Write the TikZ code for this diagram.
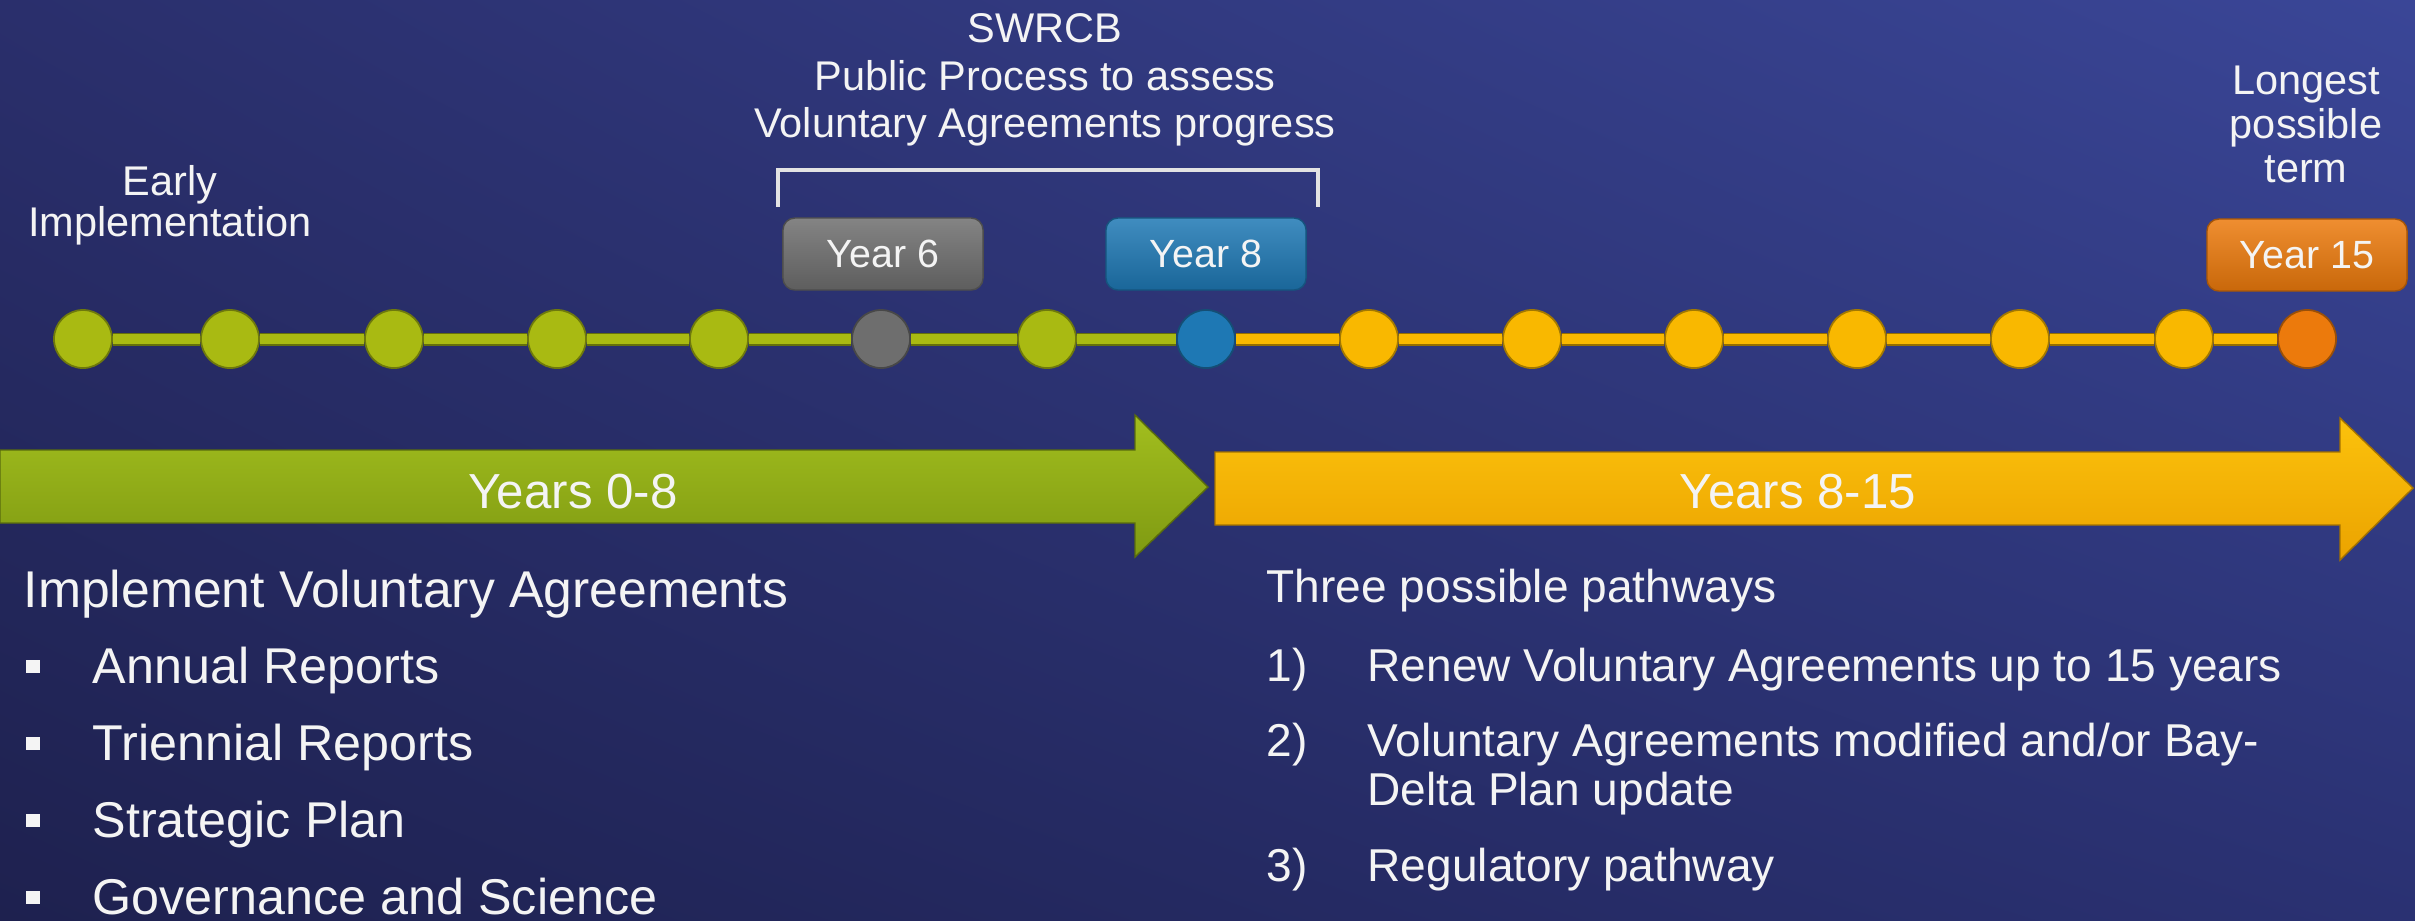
\documentclass[tikz,border=0pt]{standalone}
\usepackage{fontspec}
\setmainfont{Liberation Sans}
\usetikzlibrary{shadings}
\definecolor{bgul}{HTML}{2A2F6C}
\definecolor{bgur}{HTML}{3A4697}
\definecolor{bgll}{HTML}{1E214F}
\definecolor{bglr}{HTML}{2A3172}
\definecolor{vagreen}{HTML}{A9BA12}
\definecolor{vayellow}{HTML}{F9B800}
\definecolor{vablue}{HTML}{1E78B4}
\definecolor{vaorange}{HTML}{EC7A0C}
\definecolor{vagrey}{HTML}{6E6E6E}
\definecolor{argreentop}{HTML}{A2BE1E}
\definecolor{argreenbot}{HTML}{7F9A12}
\definecolor{aryellowtop}{HTML}{FCC20C}
\definecolor{aryellowbot}{HTML}{EBA300}
\definecolor{vatext}{HTML}{F4F4F4}
\begin{document}
\begin{tikzpicture}[x=0.01cm,y=-0.01cm,
  bead/.style={circle,minimum size=5.8mm,inner sep=0pt,fill=#1,draw=#1!65!black,line width=0.5pt},
  bar/.style={draw=#1!60!black,double=#1,double distance=2.6pt,line width=0.55pt},
  yearbox/.style={rounded corners=1.2mm,minimum width=2cm,minimum height=7.2mm,inner sep=0pt,
    text=vatext,font=\fontsize{11.2}{13}\selectfont,top color=#1!85!white,bottom color=#1!85!black,draw=#1!70!black},
  toplabel/.style={text=vatext,align=center,inner sep=0pt},
  yearstext/.style={text=vatext,anchor=base,inner sep=0pt,font=\fontsize{14}{16}\selectfont},
  listtext/.style={text=vatext,anchor=base west,inner sep=0pt,font=\fontsize{14.3}{17}\selectfont},
  pathtext/.style={text=vatext,anchor=base west,inner sep=0pt,font=\fontsize{13.1}{16}\selectfont},
  sqbullet/.style={rectangle,fill=vatext,minimum size=1.3mm,inner sep=0pt},
  bracket/.style={draw=vatext!85!gray,line width=0.9pt}]
\useasboundingbox (0,0) rectangle (2415,920);
\shade[upper left=bgul,upper right=bgur,lower left=bgll,lower right=bglr] (0,0) rectangle (2415,920);

% timeline beads
\foreach \x/\c [count=\i] in {83/vagreen,230/vagreen,394/vagreen,557/vagreen,719/vagreen,881/vagrey,
  1047/vagreen,1206/vablue,1369/vayellow,1532/vayellow,1694/vayellow,1857/vayellow,2020/vayellow,
  2184/vayellow,2307/vaorange}
  \node[bead=\c] (b\i) at (\x,339) {};
\foreach \i in {1,...,7}{
  \pgfmathtruncatemacro\j{\i+1}
  \draw[bar=vagreen] (b\i) -- (b\j);
}
\foreach \i in {8,...,14}{
  \pgfmathtruncatemacro\j{\i+1}
  \draw[bar=vayellow] (b\i) -- (b\j);
}

% year boxes
\node[yearbox=vagrey] (yr6) at (883,254) {Year 6};
\node[yearbox=vablue] (yr8) at (1206,254) {Year 8};
\node[yearbox=vaorange] (yr15) at (2307,255) {Year 15};

% labels on top
\node[toplabel,font=\fontsize{11.8}{11.7}\selectfont] (early) at (170,205) {Early\\Implementation};
\node[toplabel,font=\fontsize{11.8}{13.5}\selectfont] (swrcb) at (1045,80)
  {SWRCB\\Public Process to assess\\Voluntary Agreements progress};
\node[toplabel,font=\fontsize{11.8}{12.5}\selectfont] (longest) at (2306,124) {Longest\\possible\\term};
\coordinate (brl) at (778,207);
\coordinate (brr) at (1318,207);
\draw[bracket] (brl) -- ++(0,-37) -| (brr);

% big arrows
\shadedraw[top color=argreentop,bottom color=argreenbot,draw=argreenbot!70!black,line width=0.4pt]
  (0,450) -- (1135,450) -- (1135,415) -- (1208,487) -- (1135,557) -- (1135,523) -- (0,523) -- cycle;
\shadedraw[top color=aryellowtop,bottom color=aryellowbot,draw=aryellowbot!70!black,line width=0.4pt]
  (1215,452) -- (2340,452) -- (2340,418) -- (2413,488) -- (2340,560) -- (2340,525) -- (1215,525) -- cycle;
\node[yearstext] (y08) at (573,508) {Years 0-8};
\node[yearstext] (y815) at (1798,508) {Years 8-15};

% left list
\node[listtext,font=\fontsize{14.7}{17}\selectfont] (impl) at (23,607) {Implement Voluntary Agreements};
\foreach \t [count=\i] in {Annual Reports,Triennial Reports,Strategic Plan,Governance and Science}{
  \node[listtext] (item\i) at (92,606+77*\i) {\t};
  \node[sqbullet] (sq\i) at (33,589+77*\i) {};
}

% right list
\node[pathtext] (three) at (1266,602) {Three possible pathways};
\node[pathtext] (n1) at (1266,681) {1)};
\node[pathtext] (p1) at (1367,681) {Renew Voluntary Agreements up to 15 years};
\node[pathtext] (n2) at (1266,756) {2)};
\node[pathtext] (p2) at (1367,756) {Voluntary Agreements modified and/or Bay-};
\node[pathtext] (p2b) at (1367,805) {Delta Plan update};
\node[pathtext] (n3) at (1266,881) {3)};
\node[pathtext] (p3) at (1367,881) {Regulatory pathway};
\end{tikzpicture}
\end{document}
